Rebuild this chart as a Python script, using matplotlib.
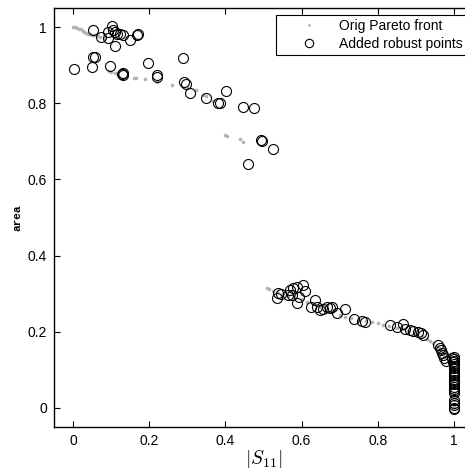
import matplotlib
matplotlib.use("Agg")
import matplotlib.pyplot as plt
from matplotlib.lines import Line2D

plt.rcParams['font.family'] = ['Liberation Sans', 'DejaVu Sans']
plt.rcParams['mathtext.fontset'] = 'cm'

# --- original Pareto front (gray dots) ---
front_x = [0.0, 0.005, 0.01, 0.015, 0.02, 0.025, 0.03, 0.035, 0.04, 0.045,
           0.05, 0.055, 0.06, 0.065, 0.07, 0.08,
           0.095, 0.1, 0.11, 0.16, 0.165, 0.19, 0.22, 0.26, 0.3, 0.324,
           0.34, 0.35, 0.368, 0.4, 0.405, 0.438, 0.447,
           0.508, 0.515, 0.525, 0.535, 0.55, 0.565, 0.58, 0.6, 0.615, 0.63,
           0.65, 0.665, 0.68, 0.7, 0.715, 0.73, 0.75, 0.77, 0.785, 0.8,
           0.815, 0.83, 0.85, 0.865, 0.88, 0.9, 0.915, 0.928, 0.937, 0.945,
           0.953, 0.96, 0.967, 0.973, 0.979, 0.985, 0.99, 0.994, 0.997,
           0.998, 0.999, 1.0, 1.0, 1.0, 1.0, 1.0, 1.0]
front_y = [1.0, 0.999, 0.998, 0.996, 0.994, 0.99, 0.986, 0.984, 0.982, 0.981,
           0.98, 0.979, 0.978, 0.976, 0.975, 0.972,
           0.884, 0.882, 0.879, 0.866, 0.865, 0.864, 0.855, 0.848, 0.84, 0.835,
           0.822, 0.82, 0.805, 0.716, 0.715, 0.705, 0.697,
           0.314, 0.311, 0.308, 0.304, 0.3, 0.295, 0.29, 0.285, 0.278, 0.272,
           0.265, 0.258, 0.252, 0.245, 0.24, 0.236, 0.232, 0.227, 0.225, 0.222,
           0.219, 0.215, 0.21, 0.206, 0.201, 0.195, 0.188, 0.18, 0.176, 0.17,
           0.163, 0.157, 0.15, 0.143, 0.135, 0.125, 0.115, 0.1, 0.085,
           0.07, 0.055, 0.04, 0.03, 0.02, 0.01, 0.005, 0.0]

# --- added robust points (open circles) ---
robust_x = [0.053, 0.101, 0.093, 0.106, 0.111, 0.116, 0.123, 0.13, 0.073, 0.093,
            0.15, 0.171, 0.168, 0.11, 0.053, 0.057, 0.003, 0.049, 0.097, 0.128,
            0.132, 0.13, 0.196, 0.22, 0.22, 0.288, 0.291, 0.296, 0.307, 0.349,
            0.38, 0.386, 0.402, 0.447, 0.475, 0.493, 0.495, 0.526, 0.458,
            0.539, 0.535, 0.545, 0.57, 0.565, 0.575, 0.578, 0.587, 0.603, 0.609,
            0.594, 0.589, 0.635, 0.626, 0.64, 0.648, 0.657, 0.666, 0.675, 0.679,
            0.692, 0.714, 0.738, 0.758, 0.766, 0.832, 0.85, 0.865, 0.872, 0.884,
            0.893, 0.905, 0.914, 0.919, 0.959, 0.963, 0.966, 0.969, 0.972, 0.975,
            0.98, 0.994, 0.997,
            1.0, 1.0, 1.0, 1.0, 1.0, 1.0, 1.0, 1.0, 1.0, 1.0, 1.0,
            1.0, 1.0, 1.0, 1.0, 1.0, 1.0, 1.0, 1.0, 1.0, 1.0, 1.0]
robust_y = [0.992, 1.003, 0.988, 0.992, 0.988, 0.983, 0.983, 0.98, 0.973, 0.97,
            0.966, 0.982, 0.979, 0.95, 0.922, 0.922, 0.891, 0.894, 0.899, 0.877,
            0.874, 0.88, 0.905, 0.873, 0.868, 0.92, 0.856, 0.85, 0.826, 0.815,
            0.8, 0.8, 0.833, 0.791, 0.787, 0.703, 0.701, 0.679, 0.64,
            0.301, 0.288, 0.298, 0.31, 0.297, 0.297, 0.314, 0.318, 0.323, 0.308,
            0.292, 0.275, 0.283, 0.264, 0.266, 0.257, 0.259, 0.266, 0.262, 0.264,
            0.25, 0.259, 0.233, 0.227, 0.226, 0.218, 0.212, 0.22, 0.208, 0.204,
            0.202, 0.199, 0.196, 0.192, 0.165, 0.158, 0.152, 0.145, 0.139, 0.131,
            0.122, 0.131, 0.12,
            0.135, 0.128, 0.122, 0.116, 0.11, 0.104, 0.098, 0.092, 0.086, 0.08, 0.074,
            0.068, 0.062, 0.056, 0.05, 0.044, 0.038, 0.02, 0.013, 0.007, 0.0, -0.004]

ticks = [0, 0.2, 0.4, 0.6, 0.8, 1]
tick_labels = ['0', '0.2', '0.4', '0.6', '0.8', '1']

fig = plt.figure(figsize=(4.65, 4.72), dpi=100)
ax = fig.add_axes([54 / 465, 45 / 472, 419 / 465, 419 / 472])

ax.plot(front_x, front_y, 'o', color='#b4b4b4', ms=2.6, mew=0, ls='none')
ax.plot(robust_x, robust_y, 'o', mfc='none', mec='black', ms=7.2, mew=0.8, ls='none')

ax.set_xlim(-0.05, 1.05)
ax.set_ylim(-0.05, 1.05)
ax.set_xticks(ticks)
ax.set_xticklabels(tick_labels)
ax.set_yticks(ticks)
ax.set_yticklabels(tick_labels)
ax.tick_params(direction='in', top=True, right=True, length=4, width=0.8,
               labelsize=10, pad=5)
for sp in ax.spines.values():
    sp.set_linewidth(1.0)

ax.set_xlabel(r'$|S_{11}|$', fontsize=14, labelpad=0)
ax.set_ylabel('area', family='Liberation Mono', fontsize=8, fontweight='bold',
              labelpad=4)

handles = [
    Line2D([], [], marker='o', color='#b4b4b4', ms=2, mew=0, ls='none'),
    Line2D([], [], marker='o', mfc='none', mec='black', ms=6, mew=0.8, ls='none'),
]
leg = ax.legend(handles, ['Orig Pareto front', 'Added robust points'],
                loc='upper right', bbox_to_anchor=(0.985, 0.983), fontsize=10,
                fancybox=False, framealpha=1, edgecolor='black',
                borderpad=0.3, labelspacing=0.25, handletextpad=0.1,
                handlelength=4.1, borderaxespad=0)
leg.get_frame().set_linewidth(0.8)

fig.savefig('out.png', dpi=100)
